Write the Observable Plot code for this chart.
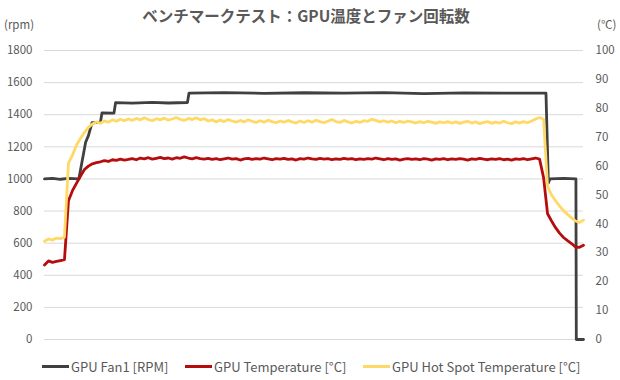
<!DOCTYPE html>
<html><head><meta charset="utf-8">
<script src="https://cdn.jsdelivr.net/npm/d3@7"></script>
<script src="https://cdn.jsdelivr.net/npm/@observablehq/plot@0.6"></script>
<style>
body{margin:0;background:#fff;}
#wrap{position:relative;width:620px;height:380px;overflow:hidden;font-family:'Noto Sans CJK JP','Noto Sans',sans-serif;color:#595959;}
#title{position:absolute;top:4px;left:0;width:612px;text-align:center;font-weight:bold;font-size:15.5px;}
.unit{position:absolute;top:16px;font-size:11.5px;}
.leg{position:absolute;top:357px;display:flex;align-items:center;font-size:13px;white-space:nowrap;}
.sw{width:27px;height:3px;margin-right:2px;}
#chart{position:absolute;left:0;top:0;}
</style></head>
<body>
<div id="wrap">
<div id="chart"></div>
<div id="title">ベンチマークテスト：GPU温度とファン回転数</div>
<div class="unit" style="left:4px">(rpm)</div>
<div class="unit" style="left:597px">(℃)</div>
<div id="legend"></div>
</div>
<script>
const seriesNames = ["GPU Fan1 [RPM]", "GPU Temperature [°C]", "GPU Hot Spot Temperature [°C]"];
const seriesColors = ["#404040", "#b50d0d", "#ffd966"];
const leftTicks = [0, 200, 400, 600, 800, 1000, 1200, 1400, 1600, 1800];
const rightTicks = [0, 10, 20, 30, 40, 50, 60, 70, 80, 90, 100];

// Fan speed (rpm), sample positions and values
const fanTime = [0, 2, 4, 6, 8.6, 10.3, 11.0, 11.9, 14.0, 14.4, 17.4, 17.8, 22, 27, 31, 35.8, 36.2, 45, 55, 65, 75, 85, 95, 105, 115, 125.6, 126.2, 126.6, 130, 133.1, 133.2, 135];
const fanRpm = [1000, 1004, 998, 1003, 1000, 1229, 1270, 1350, 1352, 1412, 1410, 1475, 1472, 1477, 1473, 1476, 1535, 1538, 1533, 1537, 1534, 1538, 1532, 1536, 1534, 1535, 975, 1000, 1003, 1000, 0, 0];

// GPU temperature (°C), one value per sample
const gpuTemp = [
25.8, 27.2, 26.7, 27.0, 27.3, 27.6,
48, 51.5, 54, 56.5, 58.8, 60, 60.8, 61.2, 61.5, 61.9, 61.6, 62.2, 62.0, 62.4, 62.1,
62.3, 62.6, 62.2, 62.8, 62.5, 62.9, 62.4, 62.7, 63.0, 62.6, 62.8, 62.4, 62.9, 62.7, 63.2, 62.8, 62.5, 62.9, 62.6, 62.4,
62.7, 62.3, 62.6, 62.2, 62.5, 62.8, 62.4, 62.6, 62.1, 62.5, 62.7, 62.3, 62.6, 62.4, 62.8, 62.5, 62.2, 62.6, 62.4, 62.7,
62.3, 62.5, 62.1, 62.6, 62.4, 62.8, 62.5, 62.3, 62.7, 62.4, 62.6, 62.2, 62.5, 62.3, 62.7, 62.4, 62.6, 62.2, 62.5, 62.3,
62.6, 62.4, 62.8, 62.5, 62.2, 62.6, 62.3, 62.5, 62.1, 62.4, 62.6, 62.3, 62.5, 62.2, 62.6, 62.4, 62.1, 62.5, 62.3, 62.6,
62.2, 62.5, 62.3, 62.6, 62.4, 62.1, 62.5, 62.3, 62.7, 62.4, 62.2, 62.5, 62.3, 62.6, 62.2, 62.4, 62.1, 62.5, 62.3, 62.6, 62.2, 62.5, 62.8, 62.4,
56, 43.5, 41, 38.7, 36.8, 35.3, 34.2, 33.2, 32, 31.9, 32.6
];

// GPU hot spot temperature (°C), one value per sample
const hotSpot = [
34.0, 34.8, 34.4, 35.1, 34.9, 35.4,
61, 63.8, 67.2, 69.6, 71.6, 73.4, 74.6, 75.3, 74.8, 75.6, 75.2, 76.0, 75.5, 76.2, 75.7,
76.3, 75.8, 76.5, 76.0, 76.7, 76.1, 75.7, 76.4, 76.0, 76.6, 75.9, 76.3, 76.8, 76.2, 75.8, 76.5, 76.1, 76.7, 76.0, 76.4,
75.6, 76.0, 75.3, 75.9, 75.4, 76.1, 75.6, 75.2, 75.8, 75.3, 76.0, 75.5, 75.1, 75.7, 75.2, 75.9, 75.4, 75.0, 75.6, 75.2,
75.8, 75.3, 74.9, 75.6, 75.1, 75.7, 75.2, 75.9, 75.4, 75.0, 75.6, 76.1, 75.4, 75.1, 75.8, 75.3, 74.9, 75.5, 75.1, 75.7,
75.5, 76.2, 75.8, 75.3, 75.7, 75.2, 75.6, 75.0, 75.5, 75.1, 75.6, 75.3, 74.9, 75.4, 75.0, 75.5, 75.2, 74.8, 75.3, 75.0,
75.4, 74.9, 75.3, 74.8, 75.2, 75.5, 74.9, 75.3, 74.7, 75.1, 75.4, 74.8, 75.2, 74.9, 75.5, 75.0, 74.7, 75.3, 74.9, 75.4, 75.0, 75.6, 76.3, 76.8,
76.2, 53, 50, 48, 46.2, 44.6, 43.3, 42.1, 41.0, 40.5, 41.3
];

const K = 1800 / 100; // °C -> rpm-axis units
const fanData = fanTime.map((t, i) => ({t, v: fanRpm[i]}));
const tempData = gpuTemp.map((v, i) => ({t: i, v: v * K}));
const hotData = hotSpot.map((v, i) => ({t: i, v: v * K}));

const plot = Plot.plot({
  width: 620, height: 380,
  marginLeft: 44, marginRight: 37, marginTop: 50, marginBottom: 41,
  style: {fontFamily: "'Noto Sans CJK JP','Noto Sans',sans-serif", fontSize: "11.5px", color: "#595959", background: "transparent"},
  x: {domain: [0, 135], axis: null},
  y: {domain: [0, 1800], axis: null},
  marks: [
    Plot.gridY(leftTicks, {stroke: "#d9d9d9", strokeOpacity: 1, strokeWidth: 1}),
    Plot.axisY(leftTicks, {anchor: "left", tickSize: 0, tickPadding: 12, label: null, tickFormat: d => String(d)}),
    Plot.axisY(rightTicks.map(d => d * K), {anchor: "right", tickSize: 0, tickPadding: 12, label: null, tickFormat: d => String(Math.round(d / K))}),
    Plot.line(fanData, {x: "t", y: "v", stroke: seriesColors[0], strokeWidth: 2.8}),
    Plot.line(tempData, {x: "t", y: "v", stroke: seriesColors[1], strokeWidth: 2.8}),
    Plot.line(hotData, {x: "t", y: "v", stroke: seriesColors[2], strokeWidth: 2.8})
  ]
});
document.getElementById("chart").appendChild(plot);

const legLeft = [42, 185, 363];
const leg = document.getElementById("legend");
seriesNames.forEach((n, i) => {
  const d = document.createElement("div");
  d.className = "leg";
  d.style.left = legLeft[i] + "px";
  d.innerHTML = `<span class="sw" style="background:${seriesColors[i]}"></span><span>${n}</span>`;
  leg.appendChild(d);
});
</script>
</body></html>
